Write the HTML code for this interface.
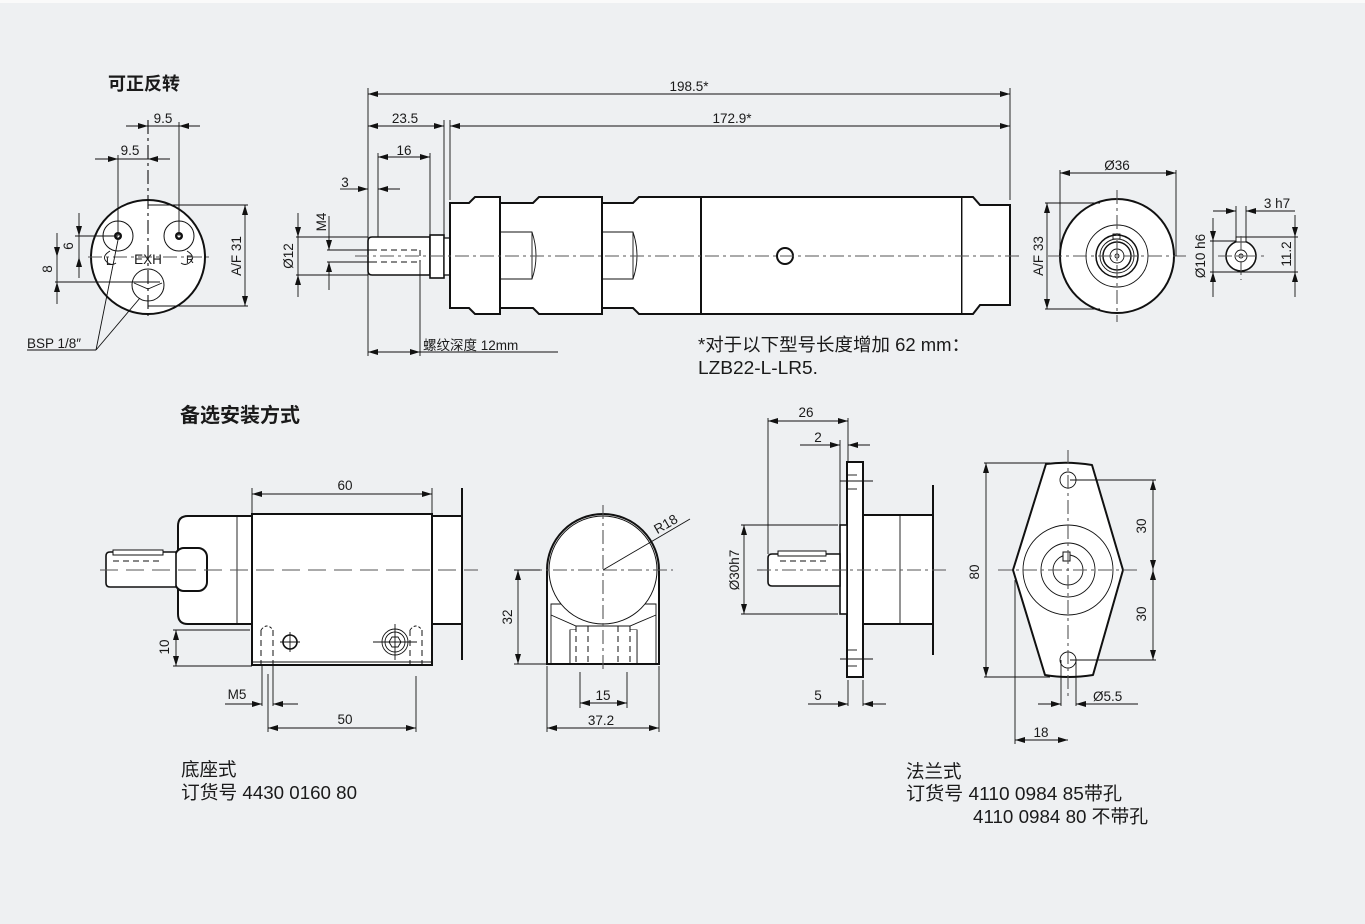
<!DOCTYPE html>
<html><head><meta charset="utf-8"><style>
html,body{margin:0;padding:0;background:#eef0f2;}
svg{display:block;}
text{font-family:"Liberation Sans","Noto Sans CJK SC",sans-serif;fill:#1a1a1a;}
.o{fill:#fff;stroke:#111;stroke-width:2;}
.on{fill:none;stroke:#111;stroke-width:2;}
.t{fill:none;stroke:#111;stroke-width:0.9;}
.tw{fill:#fff;stroke:#111;stroke-width:1;}
.d{fill:none;stroke:#111;stroke-width:0.9;marker-start:url(#a);marker-end:url(#a);}
.de{fill:none;stroke:#111;stroke-width:0.9;marker-end:url(#a);}
.c{fill:none;stroke:#555;stroke-width:1.1;stroke-dasharray:14 4 3 4;}
.h{fill:none;stroke:#111;stroke-width:1;stroke-dasharray:6 4;}
.s{font-size:13.5px;}
.m{font-size:18.5px;}
.n{font-size:18px;}
.b{font-size:20px;font-weight:bold;}
</style></head><body>
<svg width="1365" height="924" viewBox="0 0 1365 924" xmlns="http://www.w3.org/2000/svg">
<defs>
<marker id="a" viewBox="0 0 10 6" refX="10" refY="3" markerWidth="10" markerHeight="6" markerUnits="userSpaceOnUse" orient="auto-start-reverse">
<path d="M0,0 L10,3 L0,6 z" fill="#111"/></marker>
</defs>
<rect x="0" y="0" width="1365" height="924" fill="#eef0f2"/>
<rect x="0" y="0" width="1365" height="3" fill="#fafafa"/>

<!-- ========== Top-left end view ========== -->
<text x="108" y="90" class="b" style="font-size:18px">可正反转</text>
<circle cx="148" cy="257" r="57" class="o"/>
<circle cx="118" cy="236" r="15" class="tw"/><circle cx="118" cy="236" r="4" fill="#111"/><circle cx="118" cy="236" r="1.5" fill="#fff"/>
<circle cx="179" cy="236" r="15" class="tw"/><circle cx="179" cy="236" r="4" fill="#111"/><circle cx="179" cy="236" r="1.5" fill="#fff"/>
<circle cx="148" cy="285" r="16" class="tw"/>
<path d="M134,283 L148,289 L162,283" class="t"/>
<path d="M110,251 q-10,6 -2,12 q4,3 8,0" class="t"/><path d="M187,251 q10,6 2,12 q-4,3 -8,0" class="t"/>
<text x="106" y="265" class="s" style="font-size:11px">L</text><text x="186" y="263" class="s" style="font-size:11px">R</text>
<text x="148" y="264" class="s" text-anchor="middle">EXH</text>
<line x1="88" y1="257" x2="210" y2="257" class="c"/>
<line x1="148" y1="120" x2="148" y2="318" class="c" style="stroke:#111"/>
<line x1="179" y1="122" x2="179" y2="236" class="t"/>
<line x1="118" y1="155" x2="118" y2="236" class="t"/>
<line x1="126" y1="126" x2="148" y2="126" class="de"/><line x1="200" y1="126" x2="179" y2="126" class="de"/><line x1="148" y1="126" x2="179" y2="126" class="t"/>
<text x="163" y="123" class="s" text-anchor="middle">9.5</text>
<line x1="95" y1="159" x2="118" y2="159" class="de"/><line x1="170" y1="159" x2="148" y2="159" class="de"/><line x1="118" y1="159" x2="148" y2="159" class="t"/>
<text x="130" y="155" class="s" text-anchor="middle">9.5</text>
<line x1="148" y1="205" x2="248" y2="205" class="t"/><line x1="148" y1="306" x2="248" y2="306" class="t"/>
<line x1="245" y1="205" x2="245" y2="306" class="d"/>
<text transform="translate(241,256) rotate(-90)" class="s" text-anchor="middle">A/F 31</text>
<line x1="75" y1="236" x2="118" y2="236" class="t"/>
<line x1="55" y1="282" x2="160" y2="282" class="t"/>
<line x1="79" y1="213" x2="79" y2="236" class="de"/><line x1="79" y1="278" x2="79" y2="257" class="de"/><line x1="79" y1="236" x2="79" y2="257" class="t"/>
<text transform="translate(73,246) rotate(-90)" class="s" text-anchor="middle">6</text>
<line x1="57" y1="233" x2="57" y2="257" class="de"/><line x1="57" y1="304" x2="57" y2="282" class="de"/><line x1="57" y1="257" x2="57" y2="282" class="t"/>
<text transform="translate(52,269) rotate(-90)" class="s" text-anchor="middle">8</text>
<text x="27" y="348" class="s">BSP 1/8″</text>
<line x1="27" y1="350" x2="96" y2="350" class="t"/>
<line x1="96" y1="350" x2="118" y2="240" class="t"/><line x1="96" y1="350" x2="140" y2="298" class="t"/>

<!-- ========== Main side view ========== -->
<line x1="368" y1="88" x2="368" y2="356" class="t"/>
<line x1="1010" y1="88" x2="1010" y2="200" class="t"/>
<line x1="368" y1="94" x2="1010" y2="94" class="d"/>
<text x="689" y="91" class="s" text-anchor="middle">198.5*</text>
<line x1="444" y1="120" x2="444" y2="236" class="t"/>
<line x1="450" y1="120" x2="450" y2="200" class="t"/>
<line x1="368" y1="126" x2="444" y2="126" class="d"/>
<text x="405" y="123" class="s" text-anchor="middle">23.5</text>
<line x1="450" y1="126" x2="1010" y2="126" class="d"/>
<text x="732" y="123" class="s" text-anchor="middle">172.9*</text>
<line x1="378" y1="153" x2="378" y2="237" class="t"/>
<line x1="430" y1="153" x2="430" y2="236" class="t"/>
<line x1="378" y1="157" x2="430" y2="157" class="d"/>
<text x="404" y="155" class="s" text-anchor="middle">16</text>
<line x1="355" y1="189" x2="368" y2="189" class="de"/><line x1="400" y1="189" x2="378" y2="189" class="de"/>
<text x="345" y="187" class="s" text-anchor="middle">3</text>
<line x1="340" y1="189" x2="355" y2="189" class="t"/>
<path d="M372,237 H430 V275 H372 Q368,275 368,271 V241 Q368,237 372,237 Z" class="o" style="stroke-width:1.6"/>
<rect x="430" y="235" width="14" height="43" class="o" style="stroke-width:1.6"/>
<rect x="444" y="238" width="6" height="37" class="o" style="stroke-width:1.3"/>
<line x1="371" y1="250" x2="420" y2="250" class="h"/><line x1="371" y1="262" x2="420" y2="262" class="h"/>
<line x1="420" y1="250" x2="420" y2="262" class="h"/>
<line x1="296" y1="237" x2="368" y2="237" class="t"/><line x1="296" y1="275" x2="368" y2="275" class="t"/>
<line x1="298" y1="213" x2="298" y2="237" class="de"/><line x1="298" y1="297" x2="298" y2="275" class="de"/><line x1="298" y1="237" x2="298" y2="275" class="t"/>
<text transform="translate(293,256) rotate(-90)" class="s" text-anchor="middle">Ø12</text>
<line x1="327" y1="250" x2="372" y2="250" class="t"/><line x1="327" y1="262" x2="372" y2="262" class="t"/>
<line x1="329" y1="216" x2="329" y2="250" class="de"/><line x1="329" y1="290" x2="329" y2="262" class="de"/>
<text transform="translate(326,222) rotate(-90)" class="s" text-anchor="middle">M4</text>
<line x1="420" y1="262" x2="420" y2="356" class="t"/>
<line x1="368" y1="352" x2="420" y2="352" class="d"/>
<line x1="420" y1="352" x2="558" y2="352" class="t"/>
<text x="423" y="350" class="s">螺纹深度 12mm</text>
<path d="M450,203 H469 L475,197 H500 V314 H475 L469,308 H450 Z" class="o"/>
<path d="M500,203 H533 L539,197 H602 V314 H539 L533,308 H500 Z" class="o"/>
<path d="M602,203 H633 L639,197 H701 V314 H639 L633,308 H602 Z" class="o"/>
<rect x="701" y="197" width="261" height="117" class="o"/>
<path d="M962,197 H973 L980,205 H1010 V305 H980 L973,314 H962" class="o"/>
<line x1="962" y1="197" x2="962" y2="314" class="t"/>
<path d="M501,232 H532 Q540,256 532,279 H501" class="t" style="fill:#fff"/>
<line x1="532" y1="232" x2="532" y2="279" class="t"/>
<path d="M603,232 H633 Q641,256 633,279 H603" class="t" style="fill:#fff"/>
<line x1="633" y1="232" x2="633" y2="279" class="t"/>
<circle cx="785" cy="256" r="8" class="on"/>
<line x1="355" y1="256" x2="1022" y2="256" class="c"/>
<text x="698" y="351" class="n" textLength="272" lengthAdjust="spacingAndGlyphs">*对于以下型号长度增加 62 mm：</text>
<text x="698" y="374" class="n" textLength="120" lengthAdjust="spacingAndGlyphs">LZB22-L-LR5.</text>

<!-- ========== Right end view ========== -->
<circle cx="1117" cy="256" r="57" class="o"/>
<circle cx="1117" cy="256" r="31" class="t"/>
<circle cx="1117" cy="256" r="21" class="on" style="stroke-width:1.5"/>
<circle cx="1117" cy="256" r="17" class="t"/>
<circle cx="1117" cy="256" r="14" class="on" style="stroke-width:1.5"/>
<circle cx="1117" cy="256" r="7" class="t"/>
<circle cx="1117" cy="256" r="2" class="t"/>
<rect x="1113" y="234" width="7" height="5" class="t"/>
<line x1="1048" y1="256" x2="1186" y2="256" class="c"/>
<line x1="1117" y1="190" x2="1117" y2="322" class="c"/>
<line x1="1060" y1="170" x2="1060" y2="256" class="t"/><line x1="1176" y1="170" x2="1176" y2="256" class="t"/>
<line x1="1060" y1="173" x2="1176" y2="173" class="d"/>
<text x="1117" y="170" class="s" text-anchor="middle">Ø36</text>
<line x1="1045" y1="203" x2="1100" y2="203" class="t"/><line x1="1045" y1="309" x2="1100" y2="309" class="t"/>
<line x1="1047" y1="203" x2="1047" y2="309" class="d"/>
<text transform="translate(1043,256) rotate(-90)" class="s" text-anchor="middle">A/F 33</text>
<circle cx="1241" cy="256" r="15" class="o" style="stroke-width:1.6"/>
<circle cx="1241" cy="256" r="6" class="t"/><circle cx="1241" cy="256" r="2" class="t"/>
<rect x="1236" y="237" width="10" height="5" class="tw"/>
<line x1="1218" y1="256" x2="1264" y2="256" class="c"/>
<line x1="1241" y1="236" x2="1241" y2="280" class="c"/>
<line x1="1236" y1="206" x2="1236" y2="240" class="t"/><line x1="1246" y1="206" x2="1246" y2="240" class="t"/>
<line x1="1213" y1="211" x2="1236" y2="211" class="de"/><line x1="1295" y1="211" x2="1246" y2="211" class="de"/>
<text x="1277" y="208" class="s" text-anchor="middle">3 h7</text>
<line x1="1210" y1="241" x2="1236" y2="241" class="t"/>
<line x1="1246" y1="237" x2="1298" y2="237" class="t"/>
<line x1="1210" y1="272" x2="1298" y2="272" class="t"/>
<line x1="1213" y1="218" x2="1213" y2="241" class="de"/><line x1="1213" y1="297" x2="1213" y2="272" class="de"/><line x1="1213" y1="241" x2="1213" y2="272" class="t"/>
<text transform="translate(1205,256) rotate(-90)" class="s" text-anchor="middle">Ø10 h6</text>
<line x1="1295" y1="215" x2="1295" y2="237" class="de"/><line x1="1295" y1="297" x2="1295" y2="272" class="de"/><line x1="1295" y1="237" x2="1295" y2="272" class="t"/>
<text transform="translate(1291,254) rotate(-90)" class="s" text-anchor="middle">11.2</text>

<text x="180" y="422" class="b">备选安装方式</text>

<!-- ========== Foot mount side view ========== -->
<path d="M188,516 H252 V624 H188 Q178,624 178,614 V526 Q178,516 188,516 Z" class="o"/>
<line x1="237" y1="516" x2="237" y2="624" class="t"/>
<rect x="432" y="516" width="30" height="108" class="o"/>
<line x1="462" y1="488" x2="462" y2="660" class="on"/>
<rect x="252" y="514" width="180" height="151" class="o"/>
<line x1="252" y1="662" x2="432" y2="662" class="t"/>
<rect x="175" y="548" width="32" height="43" rx="9" class="o"/>
<path d="M110,552 H176 V587 H110 Q106,587 106,583 V556 Q106,552 110,552 Z" class="o" style="stroke-width:1.6"/>
<rect x="113" y="550" width="50" height="5" class="tw"/>
<line x1="113" y1="561" x2="160" y2="561" class="h"/>
<line x1="100" y1="570" x2="478" y2="570" class="c" style="stroke-dasharray:18 8"/>
<line x1="261" y1="630" x2="261" y2="664" class="h"/><line x1="273" y1="630" x2="273" y2="664" class="h"/>
<path d="M261,630 Q267,622 273,630" class="t" style="stroke-dasharray:3 2"/>
<line x1="410" y1="630" x2="410" y2="664" class="h"/><line x1="422" y1="630" x2="422" y2="664" class="h"/>
<path d="M410,630 Q416,622 422,630" class="t" style="stroke-dasharray:3 2"/>
<circle cx="290" cy="642" r="7" class="on" style="stroke-width:1.6"/>
<line x1="280" y1="642" x2="300" y2="642" class="t"/><line x1="290" y1="632" x2="290" y2="652" class="t"/>
<circle cx="395" cy="642" r="13" class="t"/>
<circle cx="395" cy="642" r="10" class="t"/>
<polygon points="401,642 398,647 392,647 389,642 392,637 398,637" class="t"/>
<line x1="373" y1="642" x2="417" y2="642" class="t"/><line x1="395" y1="624" x2="395" y2="660" class="t"/>
<line x1="252" y1="488" x2="252" y2="514" class="t"/><line x1="432" y1="488" x2="432" y2="514" class="t"/>
<line x1="252" y1="494" x2="432" y2="494" class="d"/>
<text x="345" y="490" class="s" text-anchor="middle">60</text>
<line x1="173" y1="630" x2="250" y2="630" class="t"/><line x1="173" y1="666" x2="252" y2="666" class="t"/>
<line x1="176" y1="630" x2="176" y2="666" class="d"/>
<text transform="translate(169,647) rotate(-90)" class="s" text-anchor="middle">10</text>
<line x1="262" y1="666" x2="262" y2="706" class="t"/><line x1="273" y1="666" x2="273" y2="706" class="t"/>
<line x1="268" y1="674" x2="268" y2="732" class="t"/>
<line x1="225" y1="704" x2="262" y2="704" class="de"/><line x1="298" y1="704" x2="273" y2="704" class="de"/>
<text x="237" y="699" class="s" text-anchor="middle">M5</text>
<line x1="416" y1="676" x2="416" y2="732" class="t"/>
<line x1="268" y1="728" x2="416" y2="728" class="d"/>
<text x="345" y="724" class="s" text-anchor="middle">50</text>

<!-- ========== Foot mount end view ========== -->
<path d="M547,664 V570 A56,56 0 0 1 659,570 V664 Z" class="o"/>
<path d="M551,664 V604 H656 V664" class="t"/>
<path d="M551,615 L576,626 H630 L656,615" class="t"/>
<path d="M570,664 V630 H576 M630,630 H637 V664" class="t"/>
<circle cx="603" cy="570" r="54" class="tw"/>
<rect x="570" y="630" width="67" height="34" fill="#fff"/>
<line x1="570" y1="630" x2="570" y2="664" class="t"/><line x1="637" y1="630" x2="637" y2="664" class="t"/>
<line x1="576" y1="626" x2="576" y2="664" class="h"/><line x1="588" y1="626" x2="588" y2="664" class="h"/>
<line x1="618" y1="626" x2="618" y2="664" class="h"/><line x1="630" y1="626" x2="630" y2="664" class="h"/>
<line x1="547" y1="664" x2="659" y2="664" class="on"/>
<line x1="603" y1="505" x2="603" y2="672" class="c"/>
<line x1="528" y1="570" x2="673" y2="570" class="c"/>
<line x1="603" y1="570" x2="690" y2="519" class="t"/>
<text transform="translate(668,528) rotate(-30)" class="s" text-anchor="middle">R18</text>
<line x1="514" y1="570" x2="540" y2="570" class="t"/><line x1="514" y1="664" x2="547" y2="664" class="t"/>
<line x1="518" y1="570" x2="518" y2="664" class="d"/>
<text transform="translate(512,617) rotate(-90)" class="s" text-anchor="middle">32</text>
<line x1="580" y1="672" x2="580" y2="708" class="t"/><line x1="627" y1="672" x2="627" y2="708" class="t"/>
<line x1="580" y1="703" x2="627" y2="703" class="d"/>
<text x="603" y="700" class="s" text-anchor="middle">15</text>
<line x1="547" y1="666" x2="547" y2="732" class="t"/><line x1="659" y1="666" x2="659" y2="732" class="t"/>
<line x1="547" y1="728" x2="659" y2="728" class="d"/>
<text x="601" y="725" class="s" text-anchor="middle">37.2</text>

<!-- ========== Flange side view ========== -->
<rect x="863" y="515" width="70" height="109" class="o"/>
<line x1="900" y1="515" x2="900" y2="624" class="t"/>
<line x1="933" y1="485" x2="933" y2="655" class="on"/>
<rect x="847" y="462" width="16" height="215" class="o"/>
<rect x="840" y="525" width="7" height="89" class="o" style="stroke-width:1.6"/>
<path d="M772,554 H840 V586 H772 Q768,586 768,582 V558 Q768,554 772,554 Z" class="o" style="stroke-width:1.6"/>
<rect x="778" y="551" width="48" height="5" class="tw"/>
<line x1="780" y1="561" x2="826" y2="561" class="h"/>
<line x1="840" y1="481" x2="873" y2="481" class="t"/><line x1="847" y1="489" x2="857" y2="489" class="t"/><line x1="847" y1="475" x2="857" y2="475" class="t"/>
<line x1="840" y1="659" x2="873" y2="659" class="t"/><line x1="847" y1="650" x2="857" y2="650" class="t"/><line x1="847" y1="666" x2="857" y2="666" class="t"/>
<line x1="757" y1="570" x2="950" y2="570" class="c"/>
<line x1="768" y1="418" x2="768" y2="554" class="t"/><line x1="848" y1="418" x2="848" y2="462" class="t"/>
<line x1="768" y1="421" x2="848" y2="421" class="d"/>
<text x="806" y="417" class="s" text-anchor="middle">26</text>
<line x1="840" y1="440" x2="840" y2="525" class="t"/>
<line x1="800" y1="445" x2="840" y2="445" class="de"/><line x1="870" y1="445" x2="848" y2="445" class="de"/>
<text x="818" y="442" class="s" text-anchor="middle">2</text>
<line x1="741" y1="525" x2="838" y2="525" class="t"/><line x1="741" y1="614" x2="838" y2="614" class="t"/>
<line x1="744" y1="525" x2="744" y2="614" class="d"/>
<text transform="translate(739,570) rotate(-90)" class="s" text-anchor="middle">Ø30h7</text>
<line x1="848" y1="680" x2="848" y2="706" class="t"/><line x1="863" y1="680" x2="863" y2="706" class="t"/>
<line x1="808" y1="704" x2="848" y2="704" class="de"/><line x1="886" y1="704" x2="863" y2="704" class="de"/>
<text x="818" y="700" class="s" text-anchor="middle">5</text>

<!-- ========== Flange front view ========== -->
<path d="M1046,464 Q1068,461 1092,465 L1123,570 L1093,675 Q1068,679 1045,675 L1013,570 Z" class="o" stroke-linejoin="round"/>
<circle cx="1068" cy="480" r="8" class="t"/>
<circle cx="1068" cy="660" r="8" class="t"/>
<circle cx="1068" cy="570" r="45" class="t"/>
<circle cx="1068" cy="570" r="27" class="t"/>
<circle cx="1068" cy="570" r="15" class="t"/>
<rect x="1063" y="552" width="7" height="9" class="tw"/>
<line x1="1068" y1="450" x2="1068" y2="700" class="c"/>
<line x1="998" y1="570" x2="1140" y2="570" class="c"/>
<line x1="984" y1="463" x2="1050" y2="463" class="t"/><line x1="984" y1="677" x2="1050" y2="677" class="t"/>
<line x1="986" y1="463" x2="986" y2="677" class="d"/>
<text transform="translate(979,572) rotate(-90)" class="s" text-anchor="middle">80</text>
<line x1="1070" y1="480" x2="1156" y2="480" class="t"/><line x1="1070" y1="660" x2="1156" y2="660" class="t"/>
<line x1="1153" y1="480" x2="1153" y2="570" class="d"/><line x1="1153" y1="570" x2="1153" y2="660" class="d"/>
<text transform="translate(1146,526) rotate(-90)" class="s" text-anchor="middle">30</text>
<text transform="translate(1146,614) rotate(-90)" class="s" text-anchor="middle">30</text>
<line x1="1061" y1="660" x2="1061" y2="706" class="t"/><line x1="1076" y1="660" x2="1076" y2="706" class="t"/>
<line x1="1038" y1="704" x2="1061" y2="704" class="de"/><line x1="1138" y1="704" x2="1076" y2="704" class="de"/>
<text x="1093" y="701" class="s">Ø5.5</text>
<line x1="1015" y1="580" x2="1015" y2="744" class="t"/>
<line x1="1015" y1="740" x2="1068" y2="740" class="d"/>
<text x="1041" y="737" class="s" text-anchor="middle">18</text>

<!-- ========== Captions ========== -->
<text x="181" y="776" class="m">底座式</text>
<text x="181" y="799" class="m" textLength="176" lengthAdjust="spacingAndGlyphs">订货号 4430 0160 80</text>
<text x="906" y="778" class="m">法兰式</text>
<text x="906" y="800" class="m" textLength="216" lengthAdjust="spacingAndGlyphs">订货号  4110 0984 85带孔</text>
<text x="973" y="823" class="m" textLength="175" lengthAdjust="spacingAndGlyphs">4110 0984 80 不带孔</text>
</svg>
</body></html>
